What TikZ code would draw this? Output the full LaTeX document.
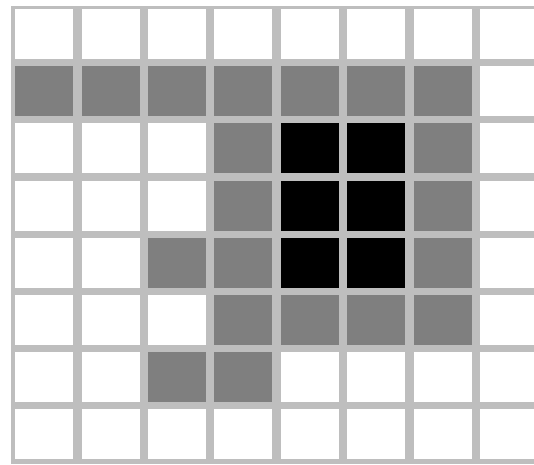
\documentclass[tikz,border=0pt]{standalone}
\usepackage{tikz}
\definecolor{gridL}{HTML}{BEBEBE}
\definecolor{cellW}{HTML}{FFFFFF}
\definecolor{cellG}{HTML}{7F7F7F}
\definecolor{cellK}{HTML}{000000}
\tikzset{
  cell/.style={draw=none, minimum width=58pt, minimum height=50pt,
               inner sep=0pt, anchor=north west},
}
\begin{document}
\begin{tikzpicture}[x=1pt,y=-1pt]
\useasboundingbox (0,0) rectangle (534,464);
\clip (0,0) rectangle (534,464);
\fill[white] (0,0) rectangle (534,464);
% grid lines show through the gaps
\fill[gridL] (11,6) rectangle (534,464);
\foreach \r [count=\j] in {
    {W,W,W,W,W,W,W,W},
    {G,G,G,G,G,G,G,W},
    {W,W,W,G,K,K,G,W},
    {W,W,W,G,K,K,G,W},
    {W,W,G,G,K,K,G,W},
    {W,W,W,G,G,G,G,W},
    {W,W,G,G,W,W,W,W},
    {W,W,W,W,W,W,W,W}} {
  \foreach \c [count=\i] in \r {
    \node[cell, fill=cell\c] (c\i-\j) at ({15+66.4*(\i-1)},{9+57.1*(\j-1)}) {};
  }
}
\end{tikzpicture}
\end{document}
